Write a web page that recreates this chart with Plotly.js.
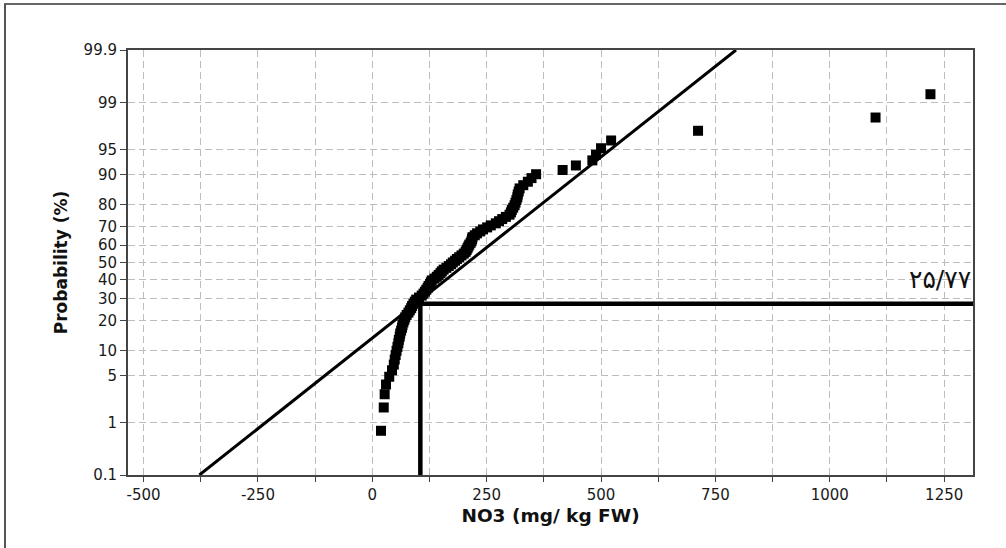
<!DOCTYPE html>
<html>
<head>
<meta charset="utf-8">
<script src="https://cdn.plot.ly/plotly-3.0.1.min.js"></script>
<style>
  html, body { margin: 0; padding: 0; background: #fff; }
  #wrap { position: relative; width: 1006px; height: 548px; }
  #chart { width: 1006px; height: 548px; }
  #frame { position: absolute; left: 4px; top: 3px; right: -2px; bottom: -2px;
           border-left: 2px solid #555; border-top: 2px solid #666; pointer-events: none; }
</style>
</head>
<body>
<div id="wrap"><div id="chart"></div><div id="frame"></div></div>
<script>
// NO3 values (mg/kg FW), sorted
const no3 = [19,25,27,30,37,43,47,49,51,53,
  55,57,58,60,61,63,65,66,68,70,
  72,75,79,82,85,87,90,93,96,102,
  108,112,115,118,121,123,126,128,130,136,
  141,145,149,152,156,162,167,172,176,181,
  185,190,195,200,204,206,208,210,212,215,
  217,218,219,224,229,236,242,251,259,270,
  277,284,292,300,303,305,308,311,313,315,
  317,318,320,322,330,340,348,358,416,445,
  481,489,500,522,712,1100,1220];
// cumulative probability (%) of each point
const prob = [0.72,1.75,2.77,3.80,4.83,5.85,6.88,7.91,8.93,9.96,
  10.99,12.01,13.04,14.07,15.09,16.12,17.15,18.17,19.20,20.23,
  21.25,22.28,23.31,24.33,25.36,26.39,27.41,28.44,29.47,30.49,
  31.52,32.55,33.57,34.60,35.63,36.65,37.68,38.71,39.73,40.76,
  41.79,42.81,43.84,44.87,45.89,46.92,47.95,48.97,50.00,51.03,
  52.05,53.08,54.11,55.13,56.16,57.19,58.21,59.24,60.27,61.29,
  62.32,63.35,64.37,65.40,66.43,67.45,68.48,69.51,70.53,71.56,
  72.59,73.61,74.64,75.67,76.69,77.72,78.75,79.77,80.80,81.83,
  82.85,83.88,84.91,85.93,86.96,87.99,89.01,90.04,91.07,92.09,
  93.12,94.15,95.17,96.20,97.23,98.25,99.28];
// fitted normal line end points
const fitX = [-378, 795];
const fitP = [0.1, 99.9];
// reference lines (vertical + horizontal)
const refX = [105, 105, 1400];
const refP = [0.1, 27.4, 27.4];
const refLabel = '۲۵/۷۷';
// axis ticks
const yTickP = [0.1, 1, 5, 10, 20, 30, 40, 50, 60, 70, 80, 90, 95, 99, 99.9];
const yTickText = ['0.1','1','5','10','20','30','40','50','60','70','80','90','95','99','99.9'];
const xTickVals = [-500,-375,-250,-125,0,125,250,375,500,625,750,875,1000,1125,1250];
const xTickText = ['-500','','-250','','0','','250','','500','','750','','1000','','1250'];

// probability axis transform (inverse normal CDF)
function probit(pct) {
  const p = pct / 100;
  const a = [-3.969683028665376e+01, 2.209460984245205e+02, -2.759285104469687e+02, 1.383577518672690e+02, -3.066479806614716e+01, 2.506628277459239e+00];
  const b = [-5.447609879822406e+01, 1.615858368580409e+02, -1.556989798598866e+02, 6.680131188771972e+01, -1.328068155288572e+01];
  const c = [-7.784894002430293e-03, -3.223964580411365e-01, -2.400758277161838e+00, -2.549732539343734e+00, 4.374664141464968e+00, 2.938163982698783e+00];
  const d = [7.784695709041462e-03, 3.224671290700398e-01, 2.445134137142996e+00, 3.754408661907416e+00];
  const pl = 0.02425, ph = 1 - pl;
  let q, r;
  if (p < pl) {
    q = Math.sqrt(-2 * Math.log(p));
    return (((((c[0]*q+c[1])*q+c[2])*q+c[3])*q+c[4])*q+c[5]) / ((((d[0]*q+d[1])*q+d[2])*q+d[3])*q+1);
  } else if (p <= ph) {
    q = p - 0.5; r = q * q;
    return (((((a[0]*r+a[1])*r+a[2])*r+a[3])*r+a[4])*r+a[5])*q / (((((b[0]*r+b[1])*r+b[2])*r+b[3])*r+b[4])*r+1);
  } else {
    q = Math.sqrt(-2 * Math.log(1 - p));
    return -(((((c[0]*q+c[1])*q+c[2])*q+c[3])*q+c[4])*q+c[5]) / ((((d[0]*q+d[1])*q+d[2])*q+d[3])*q+1);
  }
}

const zmin = probit(0.1), zmax = probit(99.9);

const traces = [
  { type: 'scatter', mode: 'lines', x: fitX, y: fitP.map(probit),
    line: { color: '#000', width: 3 }, hoverinfo: 'skip', showlegend: false },
  { type: 'scatter', mode: 'markers', x: no3, y: prob.map(probit),
    marker: { symbol: 'square', size: 10, color: '#000', line: { width: 0 } },
    showlegend: false },
  { type: 'scatter', mode: 'lines', x: refX, y: refP.map(probit),
    line: { color: '#000', width: 4.5 }, hoverinfo: 'skip', showlegend: false }
];

const tickFont = { family: 'DejaVu Sans, Verdana, sans-serif', size: 15, color: '#1a1a1a' };
const layout = {
  width: 1006, height: 548,
  margin: { l: 128, r: 33, t: 50, b: 73 },
  paper_bgcolor: '#fff', plot_bgcolor: '#fff',
  showlegend: false,
  xaxis: {
    range: [-534, 1313],
    tickmode: 'array', tickvals: xTickVals, ticktext: xTickText,
    ticks: 'outside', ticklen: 5, tickcolor: '#444', tickwidth: 1,
    tickfont: tickFont,
    showgrid: true, gridcolor: '#bdbdbd', gridwidth: 1, griddash: '7px,4px',
    zeroline: false,
    showline: true, linecolor: '#444', linewidth: 2, mirror: true,
    title: { text: 'NO3 (mg/ kg FW)', standoff: 6,
      font: { family: 'DejaVu Sans, Verdana, sans-serif', size: 18.5, color: '#111', weight: 'bold' } }
  },
  yaxis: {
    range: [zmin, zmax],
    tickmode: 'array', tickvals: yTickP.map(probit), ticktext: yTickText,
    ticks: 'outside', ticklen: 6, tickcolor: '#444', tickwidth: 1,
    tickfont: tickFont,
    showgrid: true, gridcolor: '#bdbdbd', gridwidth: 1, griddash: '7px,4px',
    zeroline: false,
    showline: true, linecolor: '#444', linewidth: 2, mirror: true,
    title: { text: 'Probability (%)', standoff: 12,
      font: { family: 'DejaVu Sans, Verdana, sans-serif', size: 17, color: '#111', weight: 'bold' } }
  },
  annotations: [{
    xref: 'x', yref: 'y', x: 1313, y: probit(refP[1]),
    xanchor: 'right', yanchor: 'bottom', yshift: 8, showarrow: false,
    text: refLabel,
    font: { family: 'DejaVu Sans, sans-serif', size: 25, color: '#111' }
  }]
};

Plotly.newPlot('chart', traces, layout, { staticPlot: true, displayModeBar: false });
</script>
</body>
</html>
